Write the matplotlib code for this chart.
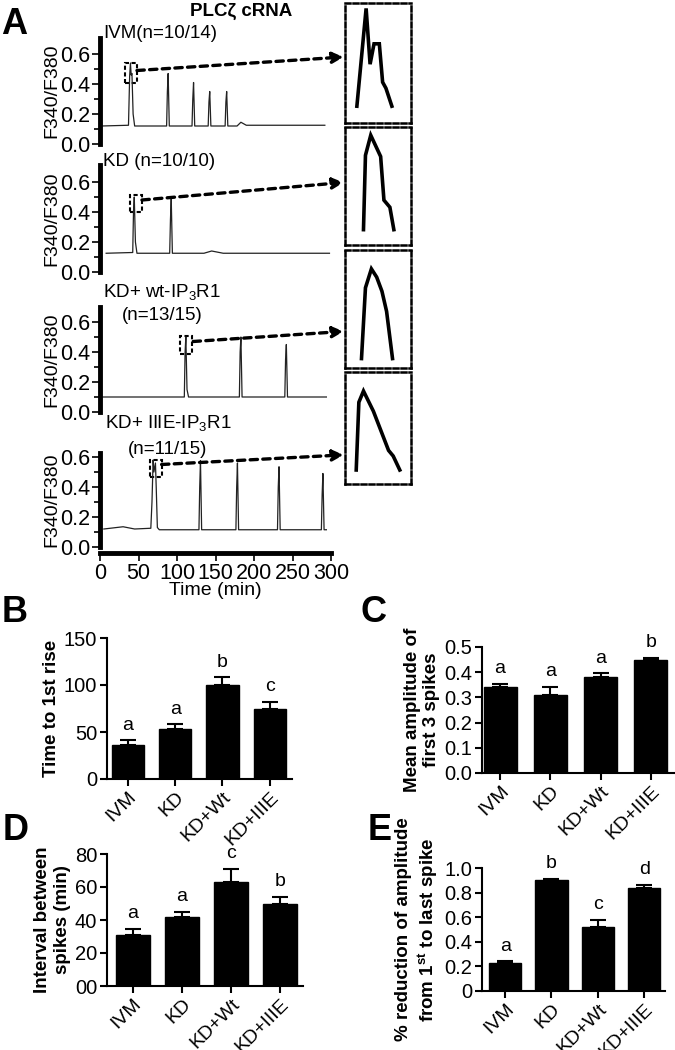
import matplotlib
matplotlib.use('Agg')
import matplotlib.pyplot as plt
from matplotlib.patches import Rectangle, ConnectionPatch

plt.rcParams['font.family'] = ['Liberation Sans', 'DejaVu Sans']
plt.rcParams['mathtext.fontset'] = 'custom'
plt.rcParams['mathtext.rm'] = 'Liberation Sans'
plt.rcParams['mathtext.bf'] = 'Liberation Sans:bold'
plt.rcParams['mathtext.default'] = 'regular'

# ---- panel A: calcium traces (time in min, F340/F380 ratio) ----
ivm_t = [2, 37, 38.5, 39.5, 40.5, 41.5, 43, 45, 86.5, 87.5, 88.5, 90,
         119.5, 120.5, 121.5, 123, 140.5, 141.5, 142.5, 144,
         162.5, 163.5, 164.5, 166, 178, 183, 190, 292]
ivm_v = [0.12, 0.125, 0.45, 0.54, 0.46, 0.47, 0.2, 0.12, 0.12, 0.35, 0.47, 0.12,
         0.12, 0.3, 0.41, 0.12, 0.12, 0.28, 0.35, 0.12,
         0.12, 0.28, 0.35, 0.12, 0.12, 0.145, 0.125, 0.125]

kd_t = [8, 42.5, 43.5, 44.5, 46, 48, 90.5, 91.5, 92.5, 94, 135, 145, 160, 298]
kd_v = [0.125, 0.13, 0.4, 0.50, 0.2, 0.125, 0.125, 0.35, 0.49, 0.125,
        0.125, 0.14, 0.125, 0.125]

wt_t = [2, 109.5, 110.5, 111.5, 113, 115, 181, 182, 183, 184.5,
        240, 241, 242, 243.5, 294]
wt_v = [0.10, 0.10, 0.4, 0.50, 0.15, 0.10, 0.10, 0.4, 0.50, 0.10,
        0.10, 0.35, 0.45, 0.10, 0.10]

iiie_t = [5, 30, 45, 66, 67.5, 69, 70, 72, 73, 74.5, 77,
          128.5, 129.5, 130.5, 132, 176.5, 177.5, 178.5, 180,
          230.5, 231.5, 232.5, 234, 287.5, 288.5, 289.5, 291, 294]
iiie_v = [0.12, 0.135, 0.12, 0.125, 0.3, 0.58, 0.5, 0.56, 0.4, 0.13, 0.115,
          0.115, 0.4, 0.575, 0.115, 0.115, 0.4, 0.56, 0.115,
          0.115, 0.4, 0.535, 0.115, 0.115, 0.35, 0.49, 0.115, 0.115]

# first-spike close-ups (normalised shape inside each inset)
zoom_ivm_x = [0.18, 0.32, 0.38, 0.44, 0.52, 0.57, 0.62, 0.71]
zoom_ivm_y = [0.14, 0.955, 0.49, 0.66, 0.66, 0.34, 0.29, 0.14]
zoom_kd_x = [0.28, 0.31, 0.39, 0.54, 0.59, 0.68, 0.74]
zoom_kd_y = [0.13, 0.76, 0.93, 0.75, 0.38, 0.32, 0.13]
zoom_wt_x = [0.25, 0.31, 0.40, 0.48, 0.56, 0.63, 0.72]
zoom_wt_y = [0.08, 0.68, 0.84, 0.77, 0.65, 0.48, 0.08]
zoom_iiie_x = [0.17, 0.21, 0.28, 0.43, 0.66, 0.73, 0.83]
zoom_iiie_y = [0.125, 0.73, 0.83, 0.65, 0.30, 0.25, 0.125]

# ---- bar panels ----
groups = ['IVM', 'KD', 'KD+Wt', 'KD+IIIE']
rise_mean = [36, 53, 100, 75]
rise_err = [5, 5, 8, 7]
rise_sig = ['a', 'a', 'b', 'c']
amp_mean = [0.34, 0.31, 0.38, 0.45]
amp_err = [0.015, 0.03, 0.015, 0.007]
amp_sig = ['a', 'a', 'a', 'b']
intv_mean = [31, 42, 63, 50]
intv_err = [3.5, 3, 8, 4]
intv_sig = ['a', 'a', 'c', 'b']
red_mean = [0.23, 0.90, 0.52, 0.84]
red_err = [0.01, 0.01, 0.06, 0.02]
red_sig = ['a', 'b', 'c', 'd']

W, H = 675, 1050
fig = plt.figure(figsize=(W / 100, H / 100), dpi=100)


def box(x0, y0, x1, y1):
    return fig.add_axes([x0 / W, 1 - y1 / H, (x1 - x0) / W, (y1 - y0) / H])


def ftext(x, y, s, **kw):
    fig.text(x / W, 1 - y / H, s, **kw)


# trace axes: pixel row of 0.0 and top of the y range
traces = [(ivm_t, ivm_v, 144, 0.71), (kd_t, kd_v, 272, 0.71),
          (wt_t, wt_v, 412, 0.70), (iiie_t, iiie_v, 547, 0.63)]
peak_boxes = [(32, 0.41, 16, 0.13), (39, 0.40, 16, 0.11),
              (104, 0.39, 16, 0.12), (65, 0.47, 15, 0.11)]
arrow_from = [(48, 0.49), (54.5, 0.48), (121, 0.47), (80, 0.55)]
inset_px = [(345, 3, 411, 123), (345, 127, 411, 245),
            (345, 250, 411, 368), (345, 372, 411, 484)]
arrow_to = [0.55, 0.53, 0.31, 0.26]
zooms = [(zoom_ivm_x, zoom_ivm_y), (zoom_kd_x, zoom_kd_y),
         (zoom_wt_x, zoom_wt_y), (zoom_iiie_x, zoom_iiie_y)]

for i, (t, v, zero, top) in enumerate(traces):
    ax = box(100, zero - top * 150, 331, zero)
    ax.plot(t, v, color='#222222', lw=0.9)
    ax.set_xlim(0, 300)
    ax.set_ylim(0, top)
    for s in ['top', 'right', 'bottom']:
        ax.spines[s].set_visible(False)
    ax.spines['left'].set_linewidth(3.5)
    ax.set_xticks([])
    ax.set_yticks([0, 0.2, 0.4, 0.6])
    ax.set_yticklabels(['0.0', '0.2', '0.4', '0.6'])
    ax.set_yticks([0.1, 0.3, 0.5], minor=True)
    ax.tick_params(axis='y', which='major', length=6, width=1.2, labelsize=15.5, pad=1)
    ax.tick_params(axis='y', which='minor', length=4, width=1.2)
    ax.set_ylabel('F340/F380', fontsize=14, labelpad=0)
    ax.patch.set_visible(False)
    bx, by, bw, bh = peak_boxes[i]
    ax.add_patch(Rectangle((bx, by), bw, bh, fill=False, lw=1.5,
                           ls=(0, (2, 1.2)), clip_on=False))

    ins = box(*inset_px[i])
    zx, zy = zooms[i]
    ins.plot(zx, zy, color='k', lw=2.6, solid_joinstyle='miter')
    ins.set_xlim(0, 1)
    ins.set_ylim(0, 1)
    ins.set_xticks([])
    ins.set_yticks([])
    for s in ins.spines.values():
        s.set_linestyle((0, (2, 1.2)))
        s.set_linewidth(1.8)

    con = ConnectionPatch(xyA=arrow_from[i], coordsA=ax.transData,
                          xyB=(-0.02, arrow_to[i]), coordsB=ins.transAxes,
                          arrowstyle='-|>', mutation_scale=16, lw=2.4,
                          ls=(0, (2.2, 1.6)), color='k')
    fig.add_artist(con)

# shared time axis
tax = box(100, 530, 331, 553)
for s in ['top', 'right', 'left']:
    tax.spines[s].set_visible(False)
tax.spines['bottom'].set_linewidth(3.5)
tax.set_xlim(0, 300)
tax.set_xticks(range(0, 301, 50))
tax.set_yticks([])
tax.patch.set_visible(False)
tax.tick_params(axis='x', length=6, width=1.2, labelsize=15.5, pad=1)
tax.set_xlabel('Time (min)', fontsize=14, labelpad=-1)

ftext(103, 34, 'IVM(n=10/14)', fontsize=13.5, va='center')
ftext(103, 161, 'KD (n=10/10)', fontsize=13.5, va='center')
ftext(103, 292, 'KD+ wt-IP$_3$R1', fontsize=13.5, va='center')
ftext(122, 315, '(n=13/15)', fontsize=13.5, va='center')
ftext(105, 423, 'KD+ IIIE-IP$_3$R1', fontsize=13.5, va='center')
ftext(128, 449, '(n=11/15)', fontsize=13.5, va='center')
ftext(241, 11, 'PLCζ cRNA', fontsize=13.5, fontweight='bold', ha='center', va='center')

ftext(14, 25, 'A', fontsize=26, fontweight='bold', ha='center', va='center')
ftext(15, 612, 'B', fontsize=26, fontweight='bold', ha='center', va='center')
ftext(374, 612, 'C', fontsize=26, fontweight='bold', ha='center', va='center')
ftext(16, 831, 'D', fontsize=26, fontweight='bold', ha='center', va='center')
ftext(380, 831, 'E', fontsize=26, fontweight='bold', ha='center', va='center')


def bar_panel(px, xlim, width, means, errs, sig, ylim, ticks, ticklabels, ylabel):
    ax = box(*px)
    x = range(len(groups))
    ax.bar(x, means, width=width, color='k', edgecolor='k')
    ax.errorbar(x, means, yerr=[[0] * len(errs), errs], fmt='none',
                ecolor='k', elinewidth=1.5, capsize=6, capthick=1.5)
    for xi, m, e, s in zip(x, means, errs, sig):
        ax.annotate(s, (xi, m + e), xytext=(0, 5), textcoords='offset points',
                    ha='center', va='bottom', fontsize=14, annotation_clip=False)
    ax.set_xlim(*xlim)
    ax.set_ylim(*ylim)
    ax.set_yticks(ticks)
    ax.set_yticklabels(ticklabels)
    ax.set_xticks(list(x))
    ax.set_xticklabels(groups, rotation=45, ha='right', rotation_mode='anchor')
    for s in ['top', 'right']:
        ax.spines[s].set_visible(False)
    for s in ['left', 'bottom']:
        ax.spines[s].set_linewidth(1.5)
    ax.tick_params(length=5, width=1.5, labelsize=14.5, pad=2)
    ax.tick_params(axis='x', labelsize=14)
    ax.set_ylabel(ylabel, fontsize=13.5, fontweight='bold', labelpad=3)
    return ax


bar_panel((107, 638, 292, 779), (-0.44, 3.47), 0.68, rise_mean, rise_err, rise_sig,
          (0, 150), [0, 50, 100, 150], ['0', '50', '100', '150'], 'Time to 1st rise')
bar_panel((482, 647, 675, 773), (-0.36, 3.48), 0.66, amp_mean, amp_err, amp_sig,
          (0, 0.5), [0, 0.1, 0.2, 0.3, 0.4, 0.5],
          ['0.0', '0.1', '0.2', '0.3', '0.4', '0.5'], 'Mean amplitude of\nfirst 3 spikes')
bar_panel((107, 854, 303, 986), (-0.53, 3.47), 0.68, intv_mean, intv_err, intv_sig,
          (0, 80), [0, 20, 40, 60, 80], ['00', '20', '40', '60', '80'],
          'Interval between\nspikes (min)')
bar_panel((482, 868, 665, 991), (-0.5, 3.45), 0.7, red_mean, red_err, red_sig,
          (0, 1.0), [0, 0.2, 0.4, 0.6, 0.8, 1.0],
          ['0', '0.2', '0.4', '0.6', '0.8', '1.0'],
          '% reduction of amplitude\nfrom 1$^\\mathbf{st}$ to last spike')

fig.savefig('out.png', dpi=100)
